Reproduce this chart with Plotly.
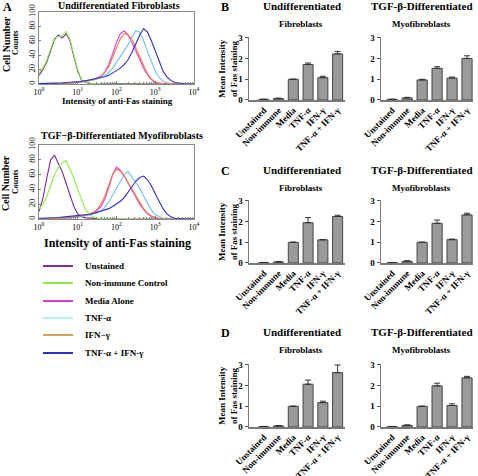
import plotly.graph_objects as go

W, H = 478, 476
FONT = "Liberation Serif"

# ---------------- data ----------------
intensity = [1, 1.26, 1.58, 2.0, 2.51, 3.16, 3.98, 5.01, 6.31, 7.94,
             10, 12.6, 15.8, 20, 25.1, 31.6, 39.8, 50.1, 63.1, 79.4,
             100, 126, 158, 200, 251, 316, 398, 501, 631, 794,
             1000, 1259, 1585, 1995, 2512, 3162, 3981, 5012, 6310, 7943, 10000]

# Undifferentiated fibroblasts histograms
undiff_unstained = [12, 20, 30, 48, 62, 68, 64, 70, 60, 38, 18, 5, 2, 1, 1, 0.5] + [0] * 25
undiff_nonimmune = [15, 22, 33, 50, 64, 66, 67, 73, 62, 40, 20, 6, 2, 1, 0.5] + [0] * 26
undiff_media = [0, 0, 0, 0, 0.5, 0.5, 1, 1, 1.5, 2, 2.5, 3, 4, 5, 6, 8, 11, 17, 27, 42,
                58, 70, 74, 68, 58, 46, 34, 22, 13, 6, 2, 1, 0.5, 0, 0, 0, 0, 0, 0, 0, 0]
undiff_ifn = [0, 0, 0, 0, 0.5, 0.5, 1, 1, 1.5, 2, 2.5, 3, 4, 5, 6.5, 8, 11, 16, 24, 37,
              52, 63, 70, 68, 62, 50, 37, 24, 14, 7, 3, 1, 0.5, 0, 0, 0, 0, 0, 0, 0, 0]
undiff_tnf = [0, 0, 0, 0, 0.5, 0.5, 1, 1, 1.5, 1.5, 2, 3, 3.5, 4.5, 5.5, 7, 9, 12, 16, 22,
              30, 38, 46, 55, 65, 74, 72, 60, 45, 30, 18, 9, 4, 1.5, 0.5, 0, 0, 0, 0, 0, 0]
undiff_tnf_ifn = [0.5, 0.5, 0.5, 1, 1, 1.5, 1.5, 2, 2, 2.5, 3, 3.5, 4.5, 5, 6, 7, 8, 10, 12, 15,
                  18, 22, 27, 34, 44, 56, 68, 77, 72, 60, 45, 30, 18, 10, 5, 2, 1, 0.5, 0, 0, 0]

# TGF-beta differentiated myofibroblasts histograms
myo_unstained = [10, 28, 55, 80, 86, 76, 64, 48, 32, 17, 7, 3, 1.5, 1, 0.5] + [0] * 26
myo_nonimmune = [14, 20, 30, 45, 60, 70, 76, 79, 68, 55, 40, 25, 13, 6, 2.5, 1, 0.5] + [0] * 24
myo_media = [0, 0, 0, 0, 0.5, 1, 1, 1.5, 2, 2.5, 3, 4, 5, 6, 8, 11, 17, 27, 42, 60,
             70, 66, 58, 48, 38, 28, 20, 13, 7, 3, 1.5, 0.5, 0, 0, 0, 0, 0, 0, 0, 0, 0]
myo_ifn = [0, 0, 0, 0, 0.5, 1, 1, 1.5, 2, 2.5, 3, 4, 5, 6.5, 9, 13, 20, 31, 46, 60,
           67, 65, 58, 49, 40, 30, 22, 14, 8, 4, 2, 0.5, 0, 0, 0, 0, 0, 0, 0, 0, 0]
myo_tnf = [0, 0, 0, 0, 0.5, 0.5, 1, 1, 1.5, 1.5, 2, 3, 4, 5, 6, 8, 11, 16, 23, 32,
           42, 52, 60, 64, 57, 50, 42, 31, 21, 12, 6, 3, 1, 0.5, 0, 0, 0, 0, 0, 0, 0]
myo_tnf_ifn = [1, 1, 1.5, 1.5, 2, 2, 2.5, 3, 3, 3.5, 4, 5, 6, 6.5, 7.5, 9, 10, 12, 14, 17,
               20, 24, 29, 36, 44, 51, 56, 58, 53, 45, 34, 23, 14, 7, 3, 1, 0.5, 0, 0, 0, 0]

series_names = ["Unstained", "Non-immune Control", "Media Alone", "TNF-α", "IFN−γ", "TNF-α + IFN-γ"]
curve_colors = ["#7B2E9C", "#8CEB4A", "#E03AE0", "#6FBFF2", "#EE7E45", "#2F2FC8"]
legend_colors = ["#7B2E9C", "#8CEB4A", "#D63AD6", "#B4F0F4", "#D9A15A", "#2F2FC8"]

bar_categories = ["Unstained", "Non-immune", "Media", "TNF-α", "IFN-γ", "TNF-α + IFN-γ"]
b_undiff = [0.03, 0.07, 1.0, 1.72, 1.08, 2.23]
b_undiff_err = [0.01, 0.02, 0.01, 0.07, 0.07, 0.12]
b_myo = [0.03, 0.10, 0.97, 1.53, 1.06, 2.01]
b_myo_err = [0.01, 0.03, 0.03, 0.08, 0.05, 0.13]
c_undiff = [0.02, 0.05, 1.0, 1.95, 1.12, 2.25]
c_undiff_err = [0.01, 0.02, 0.01, 0.25, 0.02, 0.06]
c_myo = [0.02, 0.08, 1.0, 1.92, 1.13, 2.33]
c_myo_err = [0.01, 0.03, 0.01, 0.16, 0.03, 0.08]
d_undiff = [0.02, 0.05, 1.0, 2.07, 1.18, 2.63]
d_undiff_err = [0.01, 0.02, 0.01, 0.20, 0.07, 0.37]
d_myo = [0.02, 0.08, 1.0, 1.99, 1.04, 2.38]
d_myo_err = [0.01, 0.02, 0.01, 0.13, 0.08, 0.07]

hist_ticks = [1, 10, 100, 1000, 10000]
hist_ticktext = ["10<sup>0</sup>", "10<sup>1</sup>", "10<sup>2</sup>", "10<sup>3</sup>", "10<sup>4</sup>"]
hist_minor = [m * 10 ** e for e in range(4) for m in range(2, 10)]

# ---------------- helpers ----------------
def fx(px):
    return px / W

def fy(py):
    return 1 - py / H

fig = go.Figure()
layout = dict(width=W, height=H, margin=dict(l=0, r=0, t=0, b=0, autoexpand=False),
              paper_bgcolor="white", plot_bgcolor="white", showlegend=False,
              font=dict(family=FONT, color="black"), bargap=0.32)
annotations = []
shapes = []

def ann(text, x, y, size, angle=0, xanchor="center", bold=True):
    annotations.append(dict(text=text, x=fx(x), y=fy(y), xref="paper", yref="paper",
                            showarrow=False, xanchor=xanchor, yanchor="middle",
                            textangle=angle,
                            font=dict(family=FONT, size=size, color="black",
                                      weight="bold" if bold else "normal")))

axis_idx = [0]

def new_axes():
    axis_idx[0] += 1
    n = axis_idx[0]
    return ("x" if n == 1 else f"x{n}"), ("y" if n == 1 else f"y{n}"), \
           ("xaxis" if n == 1 else f"xaxis{n}"), ("yaxis" if n == 1 else f"yaxis{n}")

def hist_panel(curves, left, right, top, bottom):
    xa, ya, xk, yk = new_axes()
    for vals, col in zip(curves, curve_colors):
        fig.add_trace(go.Scatter(x=intensity, y=vals, mode="lines",
                                 line=dict(color=col, width=1.1), xaxis=xa, yaxis=ya,
                                 hoverinfo="skip"))
    layout[xk] = dict(domain=[fx(left), fx(right)], type="log", range=[0, 4],
                      tickmode="array", tickvals=hist_ticks, ticktext=hist_ticktext,
                      ticks="inside", ticklen=3, tickcolor="#777",
                      minor=dict(tickmode="array", tickvals=hist_minor, ticks="inside",
                                 ticklen=2, tickcolor="#888"),
                      showline=True, mirror=True, linecolor="#8a8a8a", linewidth=1,
                      showgrid=False, zeroline=False, anchor=ya,
                      tickfont=dict(family=FONT, size=8, color="black"))
    layout[yk] = dict(domain=[fy(bottom), fy(top)], range=[0, 100], dtick=20,
                      ticks="inside", ticklen=2, tickcolor="#777", tickangle=-90,
                      showline=True, mirror=True, linecolor="#8a8a8a", linewidth=1,
                      showgrid=False, zeroline=False, anchor=xa,
                      tickfont=dict(family=FONT, size=8.5, color="black"))

def bar_panel(vals, errs, left, right, base, rng):
    xa, ya, xk, yk = new_axes()
    fig.add_trace(go.Bar(x=bar_categories, y=vals, xaxis=xa, yaxis=ya,
                         marker=dict(color="#9a9a9a", line=dict(color="#454545", width=1)),
                         error_y=dict(type="data", symmetric=False, array=errs,
                                      arrayminus=[0] * len(errs), color="#333333",
                                      thickness=1, width=3),
                         hoverinfo="skip"))
    top = base - 62 * 3.05 / 3
    layout[xk] = dict(domain=[fx(left), fx(right)], type="category", range=rng,
                      tickangle=-45, ticks="", showline=True, linecolor="#7a7a7a",
                      linewidth=1.5, showgrid=False, zeroline=False, anchor=ya,
                      tickfont=dict(family=FONT, size=9, color="black", weight="bold"))
    layout[yk] = dict(domain=[fy(base), fy(top)], range=[0, 3.05], tickvals=[0, 1, 2, 3],
                      ticks="outside", ticklen=3, tickcolor="#555", showline=True,
                      linecolor="#7a7a7a", linewidth=1.5, showgrid=False, zeroline=False,
                      anchor=xa, tickfont=dict(family=FONT, size=9, color="black", weight="bold"))

# ---------------- panel A ----------------
hist_panel([undiff_unstained, undiff_nonimmune, undiff_media, undiff_tnf, undiff_ifn, undiff_tnf_ifn],
           39, 194, 12, 84)
hist_panel([myo_unstained, myo_nonimmune, myo_media, myo_tnf, myo_ifn, myo_tnf_ifn],
           39, 194, 145, 219)

ann("A", 7, 7, 12)
ann("Undifferentiated Fibroblasts", 119, 6, 10)
ann("Intensity of anti-Fas staining", 117, 101, 9)
ann("Cell Number", 6, 44, 10, angle=-90)
ann("Counts", 15, 43, 8, angle=-90)

ann("TGF−β-Differentiated Myofibroblasts", 122, 135, 10)
ann("Intensity of anti-Fas staining", 117, 243, 12)
ann("Cell Number", 6, 183, 10, angle=-90)
ann("Counts", 15, 182, 8, angle=-90)

legend_y = [266, 283, 301, 318, 335, 353]
for name, col, yy in zip(series_names, legend_colors, legend_y):
    shapes.append(dict(type="line", xref="paper", yref="paper", x0=fx(43), x1=fx(73),
                       y0=fy(yy), y1=fy(yy), line=dict(color=col, width=2)))
    ann(name, 83, yy, 9, xanchor="left")

# ---------------- panels B, C, D ----------------
rows = [("B", 100, 6, b_undiff, b_undiff_err, b_myo, b_myo_err),
        ("C", 263, 170, c_undiff, c_undiff_err, c_myo, c_myo_err),
        ("D", 427, 332, d_undiff, d_undiff_err, d_myo, d_myo_err)]
for letter, base, ty, u, ue, m, me in rows:
    bar_panel(u, ue, 249, 345, base, [-1, 5.5])
    bar_panel(m, me, 381, 473, base, [-0.75, 5.4])
    ann(letter, 225, ty + 1, 12)
    ann("Undifferentiated", 302, ty, 11)
    ann("Fibroblasts", 301, ty + 18, 9)
    ann("TGF-β-Differentiated", 422, ty, 11)
    ann("Myofibroblasts", 421, ty + 18, 9)
    ann("Mean Intensity<br>of Fas staining", 228, base - 31, 9, angle=-90)

layout["annotations"] = annotations
layout["shapes"] = shapes
fig.update_layout(**layout)
fig.write_html("out.html", config={"displayModeBar": False, "staticPlot": True},
               post_script="document.body.style.margin='0';document.body.style.overflow='hidden';")
